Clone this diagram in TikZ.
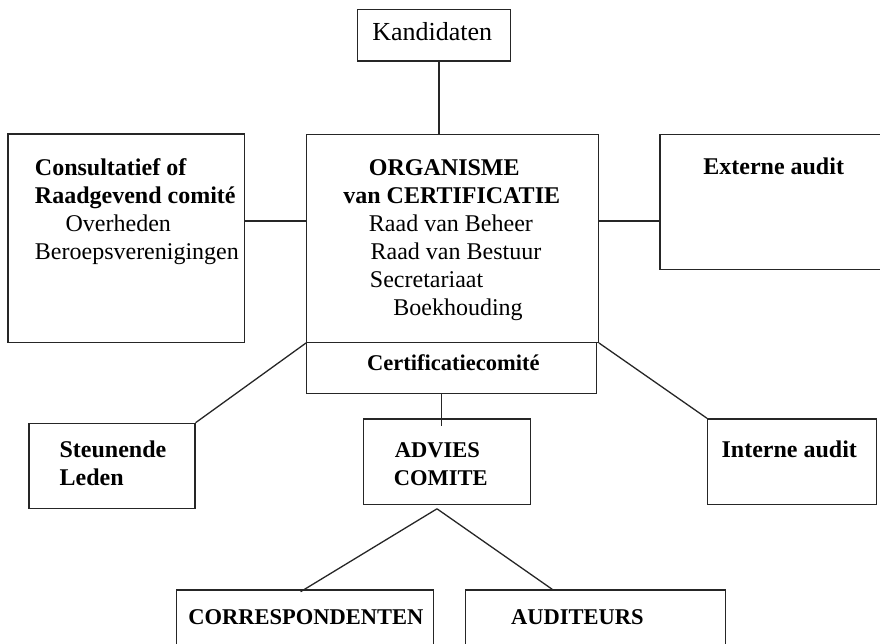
\documentclass[tikz,border=0pt]{standalone}
\usepackage{fontspec}
\setmainfont{Liberation Serif}
\usetikzlibrary{calc}
\newcommand\boxtxt[4]{\parbox[t][#2][t]{#1}{\setlength\parindent{0pt}\vspace*{#3}#4}}
\newcommand\txtline[2]{\par\noindent\hspace*{#1}\strut{#2}}
\tikzset{
  bx/.style={draw=black!85, line width=1.3pt, inner sep=0pt, anchor=north west},
  conn/.style={draw=black!85, line width=1.3pt}
}
\begin{document}
\begin{tikzpicture}[x=1pt,y=-1pt]
\useasboundingbox (0,0) rectangle (880,644);

% Kandidaten
\node[bx] (kand) at (357,9) {\boxtxt{152.5pt}{51.3pt}{11.4pt}{\fontsize{26}{28}\selectfont
  \txtline{14.7pt}{Kandidaten}}};

% Consultatief
\node[bx] (cons) at (7.3,133.3) {\boxtxt{236.7pt}{208.4pt}{22.2pt}{\fontsize{24}{27.8}\selectfont
  \txtline{27pt}{\bfseries Consultatief of}
  \txtline{27pt}{\bfseries Raadgevend comité}
  \txtline{57.7pt}{Overheden}
  \txtline{27pt}{Beroepsverenigingen}}};

% Organisme
\node[bx] (org) at (306,134) {\boxtxt{291.7pt}{207.7pt}{21.4pt}{\fontsize{24}{28}\selectfont
  \txtline{62.3pt}{\bfseries ORGANISME}
  \txtline{36.7pt}{\bfseries van CERTIFICATIE}
  \txtline{62.3pt}{Raad van Beheer}
  \txtline{64pt}{Raad van Bestuur}
  \txtline{63.3pt}{Secretariaat}
  \txtline{86.7pt}{Boekhouding}}};

% Externe audit
\node[bx] (ext) at (659.3,134) {\boxtxt{226pt}{135pt}{20.7pt}{\fontsize{24}{28}\selectfont
  \txtline{43.4pt}{\bfseries Externe audit}}};

% Certificatiecomite
\node[bx] (cert) at (305.5,342) {\boxtxt{290pt}{50.7pt}{8.4pt}{\fontsize{22.5}{28}\selectfont
  \txtline{61pt}{\bfseries Certificatiecomité}}};

% Steunende Leden
\node[bx] (steun) at (28.3,422.7) {\boxtxt{166pt}{85.3pt}{14.2pt}{\fontsize{24}{28.3}\selectfont
  \txtline{30.7pt}{\bfseries Steunende}
  \txtline{30.7pt}{\bfseries Leden}}};

% Advies comite
\node[bx] (adv) at (363,418.3) {\boxtxt{166.5pt}{85.7pt}{18.6pt}{\fontsize{22.5}{28.3}\selectfont
  \txtline{31.3pt}{\bfseries ADVIES}
  \txtline{30.3pt}{\bfseries COMITE}}};

% Interne audit
\node[bx] (int) at (707,418.3) {\boxtxt{169pt}{85.7pt}{18.6pt}{\fontsize{24}{28}\selectfont
  \txtline{14pt}{\bfseries Interne audit}}};

% Correspondenten
\node[bx] (corr) at (176,589.3) {\boxtxt{256.5pt}{62pt}{15.1pt}{\fontsize{22.5}{28}\selectfont
  \txtline{11.7pt}{\bfseries CORRESPONDENTEN}}};

% Auditeurs
\node[bx] (aud) at (464.5,589.3) {\boxtxt{260pt}{62pt}{15.1pt}{\fontsize{22.5}{28}\selectfont
  \txtline{46pt}{\bfseries AUDITEURS}}};

% connectors
\coordinate (kx) at ([xshift=82pt]kand.south west);
\draw[conn] (kx) -- (kx |- org.north);
\coordinate (cy) at ([yshift=-87.7pt]cons.north east);
\draw[conn] (cy) -- (cy -| org.west);
\coordinate (ey) at ([yshift=-87pt]org.north east);
\draw[conn] (ey) -- (ey -| ext.west);
\draw[conn] (org.south west) -- (steun.north east);
\draw[conn] (org.south east) -- (int.north west);
\coordinate (cx) at ([xshift=136.2pt]cert.south west);
\coordinate (cxe) at ([yshift=-8pt]cx |- adv.north);
\draw[conn] (cx) -- (cxe);
\coordinate (apex) at ([xshift=74pt,yshift=-3.5pt]adv.south west);
\coordinate (ctop) at ([xshift=124.6pt,yshift=-2.4pt]corr.north west);
\coordinate (atop) at ([xshift=87.7pt]aud.north west);
\draw[conn] (apex) -- (ctop);
\draw[conn] (apex) -- (atop);
\end{tikzpicture}
\end{document}
